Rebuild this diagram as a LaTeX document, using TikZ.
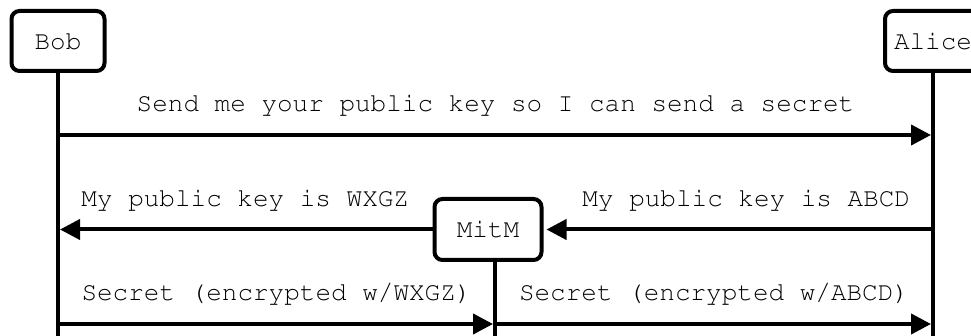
\documentclass[tikz,border=0pt]{standalone}
\usetikzlibrary{arrows.meta}
\newcommand\seqfont{\fontencoding{OT1}\fontfamily{pcr}\selectfont}

\begin{document}
\begin{tikzpicture}[x=1pt,y=-1pt,line width=4pt,>={Triangle[length=20pt,width=20pt]},
    font=\seqfont\fontsize{26}{30}\selectfont,
    actor/.style={draw,rounded corners=8pt,inner sep=0pt,minimum height=60pt},
    msg/.style={->,shorten >=2pt},
    lbl/.style={midway,anchor=base,yshift=23pt}]
    \def\ya{135}
    \def\yc{324}
    \def\ybot{336}
    \useasboundingbox (0,0) rectangle (971,\ybot);

    \node[actor,minimum width=93pt] (bob) at (58,41) {Bob};
    \node[actor,minimum width=96pt] (alice) at (933,41) {Alice};
    \node[actor,minimum width=107pt,minimum height=61pt] (mitm) at (488,229.5) {MitM};

    % lifelines
    \coordinate (bobend) at (58,\ybot);
    \coordinate (aliceend) at (933,\ybot);
    \coordinate (mitmend) at (495,\ybot);
    \coordinate (lvla) at (0,\ya);
    \coordinate (lvlc) at (0,\yc);
    \draw (bob) -- (bobend);
    \draw (alice) -- (aliceend);
    \draw (mitm.south -| mitmend) -- (mitmend);

    % messages
    \draw[msg] (bobend |- lvla) -- (aliceend |- lvla) node[lbl]{Send me your public key so I can send a secret};
    \draw[msg] (mitm.west) -- (bobend |- mitm.west) node[lbl]{My public key is WXGZ};
    \draw[msg,shorten >=3pt] (aliceend |- mitm.east) -- (mitm.east) node[lbl,xshift=8pt]{My public key is ABCD};
    \draw[msg] (bobend |- lvlc) -- (mitmend |- lvlc) node[lbl]{Secret (encrypted w/WXGZ)};
    \draw[msg] (mitmend |- lvlc) -- (aliceend |- lvlc) node[lbl]{Secret (encrypted w/ABCD)};
\end{tikzpicture}
\end{document}
